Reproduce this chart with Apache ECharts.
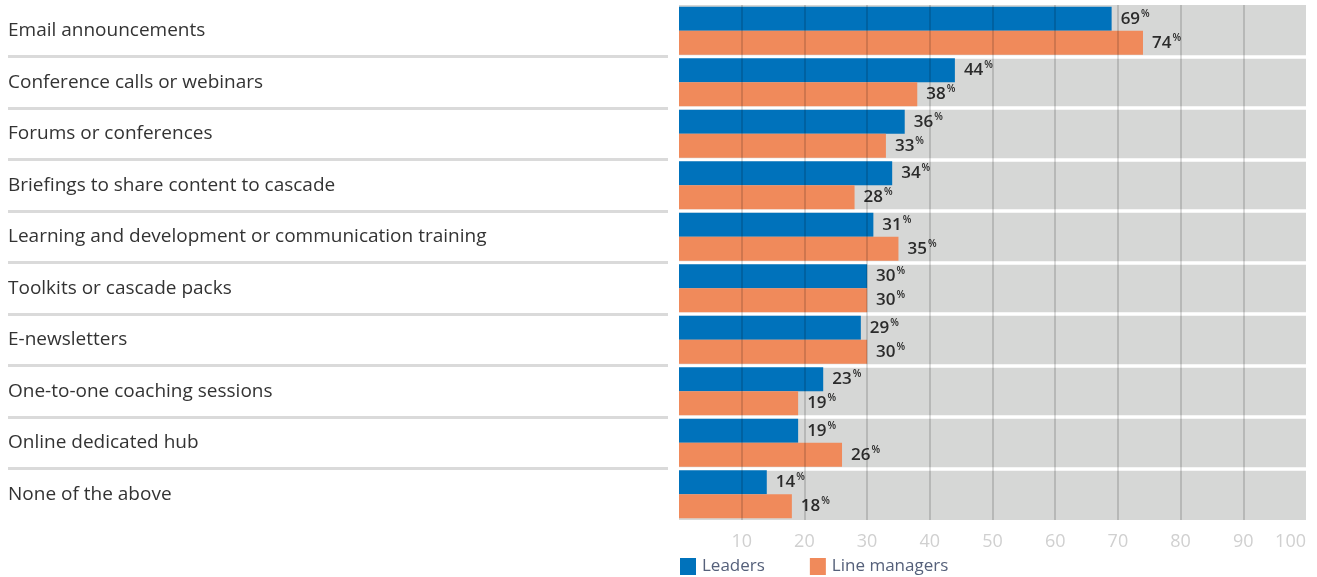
<!DOCTYPE html>
<html>
<head>
<meta charset="utf-8">
<script src="https://cdn.jsdelivr.net/npm/echarts@6/dist/echarts.min.js"></script>
<style>
html,body{margin:0;padding:0;background:#fff;}
#chart{width:1317px;height:577px;}
</style>
</head>
<body>
<div id="chart"></div>
<script>
var categories = [
  'Email announcements',
  'Conference calls or webinars',
  'Forums or conferences',
  'Briefings to share content to cascade',
  'Learning and development or communication training',
  'Toolkits or cascade packs',
  'E-newsletters',
  'One-to-one coaching sessions',
  'Online dedicated hub',
  'None of the above'
];
var leaders = [69, 44, 36, 34, 31, 30, 29, 23, 19, 14];
var lineManagers = [74, 38, 33, 28, 35, 30, 30, 19, 26, 18];
var seriesNames = ['Leaders', 'Line managers'];

var FONT = '"Open Sans", sans-serif';
var labelCfg = {
  show: true,
  position: 'right',
  distance: 9,
  formatter: function (p) { return '{n|' + p.value + '}{p|%}'; },
  rich: {
    n: { fontFamily: FONT, fontSize: 17, fontWeight: 600, color: '#2b2b2b', lineHeight: 20 },
    p: { fontFamily: FONT, fontSize: 10, fontWeight: 600, color: '#2b2b2b', verticalAlign: 'top', lineHeight: 20, padding: [0, 0, 8, 1] }
  }
};

var chart = echarts.init(document.getElementById('chart'), null, { renderer: 'canvas' });
chart.setOption({
  animation: false,
  backgroundColor: '#ffffff',
  legend: {
    left: 680,
    top: 558,
    padding: 0,
    itemWidth: 16,
    itemHeight: 17,
    itemGap: 45,
    icon: 'rect',
    textStyle: { fontFamily: FONT, fontSize: 17, color: '#55607a', padding: [0, 0, 0, 1] },
    data: seriesNames
  },
  grid: [
    { left: 679, right: 11, top: 5, bottom: 57, containLabel: false },
    { left: 8, right: 649, top: 5, bottom: 57, containLabel: false }
  ],
  xAxis: [
    {
      gridIndex: 0,
      type: 'value',
      min: 0, max: 100, interval: 10,
      z: 5,
      axisLine: { show: false },
      axisTick: { show: false },
      splitLine: { show: true, showMinLine: false, showMaxLine: false, lineStyle: { color: 'rgba(0,0,0,0.14)', width: 2 } },
      axisLabel: {
        margin: 13,
        fontFamily: FONT, fontSize: 18, color: '#d0d0d0',
        showMinLabel: false,
        alignMaxLabel: 'right'
      }
    },
    { gridIndex: 1, type: 'value', min: 0, max: 1, show: false }
  ],
  yAxis: [
    {
      gridIndex: 0,
      type: 'category',
      data: categories,
      inverse: true,
      z: 0,
      axisLine: { show: false },
      axisTick: { show: false },
      axisLabel: {
        margin: 671,
        align: 'left',
        fontFamily: FONT, fontSize: 19, color: '#333333',
        padding: [0, 0, 5, 0]
      },
      splitArea: { show: true, areaStyle: { color: ['#d6d7d6', '#d6d7d6'] } },
      splitLine: { show: true, showMinLine: false, showMaxLine: false, lineStyle: { color: '#ffffff', width: 3.5 } }
    },
    {
      gridIndex: 1,
      type: 'category',
      data: categories,
      inverse: true,
      axisLine: { show: false },
      axisTick: { show: false },
      axisLabel: { show: false },
      splitLine: { show: true, showMinLine: false, showMaxLine: false, lineStyle: { color: '#dadada', width: 3 } }
    }
  ],
  series: [
    {
      name: seriesNames[0],
      type: 'bar',
      xAxisIndex: 0, yAxisIndex: 0,
      data: leaders,
      barWidth: 24,
      barGap: '0%',
      itemStyle: { color: '#0072bb' },
      label: labelCfg,
      z: 2
    },
    {
      name: seriesNames[1],
      type: 'bar',
      xAxisIndex: 0, yAxisIndex: 0,
      data: lineManagers,
      barWidth: 24,
      barGap: '0%',
      itemStyle: { color: '#f08a5b' },
      label: labelCfg,
      z: 2
    }
  ]
});
</script>
</body>
</html>
